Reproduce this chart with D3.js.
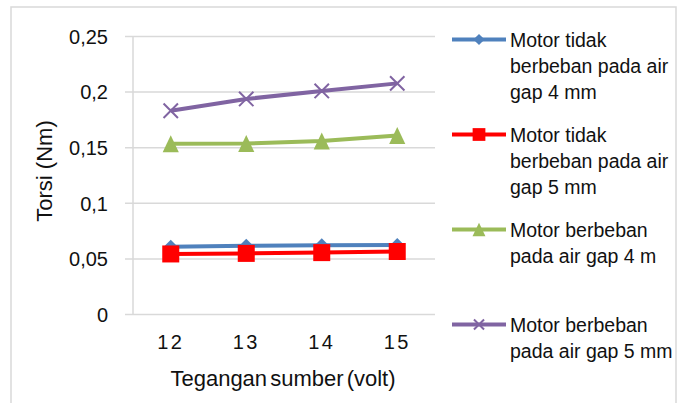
<!DOCTYPE html>
<html><head><meta charset="utf-8">
<script src="https://cdn.jsdelivr.net/npm/d3@7/dist/d3.min.js"></script>
<style>
html,body{margin:0;padding:0;background:#fff;}
text{font-family:"Liberation Sans",Arial,sans-serif;fill:#111;}
</style></head>
<body>
<svg id="chart" width="682" height="403"></svg>
<script>
const categories = ["12","13","14","15"];
const yTicks = [0, 0.05, 0.1, 0.15, 0.2, 0.25];
const yTickLabels = ["0","0,05","0,1","0,15","0,2","0,25"];
const seriesNames = [
  ["Motor tidak","berbeban pada air","gap 4 mm"],
  ["Motor tidak","berbeban pada air","gap 5 mm"],
  ["Motor berbeban","pada air gap 4 m"],
  ["Motor berbeban","pada air gap 5 mm"]
];
const blueValues = [0.0605, 0.0613, 0.0618, 0.0620];
const redValues = [0.0540, 0.0545, 0.0552, 0.0562];
const greenValues = [0.1530, 0.1533, 0.1556, 0.1605];
const purpleValues = [0.1828, 0.1934, 0.2006, 0.2074];
const xTitle = "Tegangan sumber (volt)";
const yTitle = "Torsi (Nm)";

(function(){
const svg = d3.select("#chart");
const colors = ["#4f81bd","#ff0000","#9bbb59","#8064a2"];
const markers = ["diamond","square","triangle","x"];
const allValues = [blueValues, redValues, greenValues, purpleValues];

svg.append("rect").attr("x",11).attr("y",7).attr("width",665).attr("height",410)
  .attr("fill","none").attr("stroke","#d9d9d9").attr("stroke-width",1.5);

const pL=133, pR=435, pT=36, pB=314;
const x = d3.scaleBand().domain(categories).range([pL,pR]);
const y = d3.scaleLinear().domain([0,0.25]).range([pB,pT]);

const yAxis = d3.axisLeft(y).tickValues(yTicks).tickSize(-(pR-pL)).tickFormat((d,i)=>yTickLabels[i]);
const gy = svg.append("g").attr("transform",`translate(${pL},0)`).call(yAxis);
gy.select(".domain").remove();
gy.selectAll(".tick line").attr("stroke","#d9d9d9").attr("stroke-width",1.5).attr("x1",-8);
gy.selectAll(".tick text").attr("font-size",20).attr("dy","0.36em").attr("x",-25)
  .attr("font-family","Liberation Sans, Arial, sans-serif").attr("fill","#111");
svg.append("line").attr("x1",pL).attr("x2",pL).attr("y1",pT).attr("y2",pB)
  .attr("stroke","#d9d9d9").attr("stroke-width",1.5);

const xAxis = d3.axisBottom(x).tickSize(0);
const gx = svg.append("g").attr("transform",`translate(0,${pB})`).call(xAxis);
gx.select(".domain").remove();
gx.selectAll(".tick text").attr("font-size",20).attr("letter-spacing","2.5px").attr("dy","0.71em")
  .attr("y",21).attr("font-family","Liberation Sans, Arial, sans-serif").attr("fill","#111");

svg.append("text").attr("x",283).attr("y",386).attr("text-anchor","middle")
  .attr("font-size",22).attr("word-spacing","-3px").text(xTitle);
svg.append("text").attr("transform","translate(51.5,171) rotate(-90)").attr("text-anchor","middle")
  .attr("font-size",22).text(yTitle);

function drawMarker(g, type, cx, cy, color, scale){
  scale = scale||1;
  if(type==="diamond"){
    const s=7*scale;
    g.append("path").attr("d",`M${cx},${cy-s}L${cx+s},${cy}L${cx},${cy+s}L${cx-s},${cy}Z`).attr("fill",color);
  } else if(type==="square"){
    const s=8.5*scale;
    g.append("rect").attr("x",cx-s).attr("y",cy-s).attr("width",2*s).attr("height",2*s).attr("fill",color);
  } else if(type==="triangle"){
    const s=8.5*scale;
    g.append("path").attr("d",`M${cx},${cy-s}L${cx+s*0.95},${cy+s}L${cx-s*0.95},${cy+s}Z`).attr("fill",color);
  } else {
    const s=7.2*scale;
    g.append("path").attr("d",`M${cx-s},${cy-s}L${cx+s},${cy+s}M${cx+s},${cy-s}L${cx-s},${cy+s}`)
      .attr("stroke",color).attr("stroke-width",2).attr("fill","none");
  }
}

const line = d3.line().x((d,i)=>x(categories[i])+x.bandwidth()/2).y(d=>y(d));
allValues.forEach((vals,si)=>{
  const g = svg.append("g");
  g.append("path").datum(vals).attr("d",line).attr("fill","none")
    .attr("stroke",colors[si]).attr("stroke-width",4).attr("stroke-linejoin","round");
  vals.forEach((v,i)=>drawMarker(g, markers[si], x(categories[i])+x.bandwidth()/2, y(v), colors[si], 1));
});

const legendBase = [47, 142, 237, 332];
seriesNames.forEach((lines,si)=>{
  const g = svg.append("g");
  const ly = legendBase[si]-7.5;
  g.append("line").attr("x1",452).attr("x2",506).attr("y1",ly).attr("y2",ly)
    .attr("stroke",colors[si]).attr("stroke-width",4);
  drawMarker(g, markers[si], 479, ly, colors[si], si===1?0.75:(si===3?0.7:0.8));
  const t = g.append("text").attr("x",510).attr("y",legendBase[si]).attr("font-size",19.5);
  lines.forEach((l,k)=>t.append("tspan").attr("x",510).attr("dy",k===0?0:26).text(l));
});
})();
</script>
</body></html>
